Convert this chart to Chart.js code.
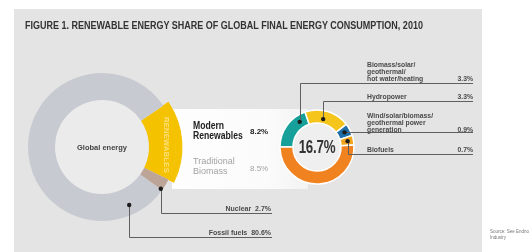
<!DOCTYPE html>
<html><head><meta charset="utf-8">
<script src="https://cdn.jsdelivr.net/npm/chart.js@4.4.0/dist/chart.umd.min.js"></script>
<style>
html,body{margin:0;padding:0;width:529px;height:252px;overflow:hidden;background:#fff;position:relative;}
#panel{position:absolute;left:14px;top:9px;width:468px;height:243px;background:#e4e4e4;}
#band{position:absolute;left:172px;top:109px;width:136px;height:80px;background:linear-gradient(to right,rgba(255,255,255,0.97),rgba(255,255,255,0.85) 70%,rgba(255,255,255,0.55));}
canvas{position:absolute;left:0;top:0;}
.t{position:absolute;font-family:"Liberation Sans","DejaVu Sans",sans-serif;white-space:nowrap;color:#3a3a3a;}
.title{left:25px;top:20px;font-size:10px;font-weight:bold;color:#333;transform:scaleX(0.9);transform-origin:0 0;}
.rl{font-size:6.8px;line-height:7px;font-weight:bold;color:#4a4a4a;}
.rv{font-size:6.8px;line-height:7px;font-weight:bold;color:#4a4a4a;text-align:right;}
.ll{font-size:7px;line-height:7px;font-weight:bold;color:#4a4a4a;text-align:right;}
.mid{font-size:10.5px;line-height:10px;font-weight:bold;color:#222;transform:scaleX(0.82);transform-origin:0 0;}
.midv{font-size:8px;font-weight:bold;color:#222;}
.mid2{font-size:9px;line-height:9.5px;color:#a3a3a3;}
.midv2{font-size:8px;color:#a3a3a3;}
.center{font-size:19px;font-weight:bold;color:#333;text-align:center;width:60px;transform:scaleX(0.7);transform-origin:50% 0;letter-spacing:-0.3px;}
.gl{font-size:7.5px;font-weight:bold;color:#444;text-align:center;width:80px;}
.vert{left:136px;top:141px;width:60px;text-align:center;font-size:7.5px;line-height:8px;font-weight:bold;color:#fbe17c;transform:rotate(90deg);transform-origin:50% 50%;letter-spacing:0.3px;}
.src{left:490px;top:229px;font-size:4.5px;line-height:6px;color:#777;}
</style></head>
<body>
<div id="panel"></div>
<div id="band"></div>
<canvas id="big" width="529" height="252"></canvas>
<canvas id="small" width="529" height="252"></canvas>
<div id="labels"></div>
<script>
// ---- data ----
const titleText = 'FIGURE 1. RENEWABLE ENERGY SHARE OF GLOBAL FINAL ENERGY CONSUMPTION, 2010';
const globalCategories = ['Renewables', 'Nuclear', 'Fossil fuels'];
const globalValues = [16.7, 2.7, 80.6];
const renewableCategories = ['Biomass/solar/geothermal hot water/heating', 'Hydropower', 'Wind/solar/biomass/geothermal power generation', 'Biofuels', 'Traditional Biomass'];
const renewableValues = [3.3, 3.3, 0.9, 0.7, 8.5];
const renewableLabelLines = [['Biomass/solar/', 'geothermal/', 'hot water/heating'], ['Hydropower'], ['Wind/solar/biomass/', 'geothermal power', 'generation'], ['Biofuels']];
const splitCategories = ['Modern Renewables', 'Traditional Biomass'];
const splitValues = [8.2, 8.5];
const renewableTotal = 16.7;
const sourceLines = ['Source: See Endnote 1', 'Industry'];

// ---- styles ----
const globalColors = ['#f5c200', '#bca497', '#c7cad1'];
const renewableColors = ['#17a099', '#f6c51c', '#1f6ea8', '#f2a51b', '#f0821f'];
const fmt = v => v.toFixed(1) + '%';

const leaderPlugin = {
  id: 'leaders',
  beforeDatasetsDraw(chart, args, opts) {
    const a = chart.getDatasetMeta(opts.ringIndex).data[0];
    const ctx = chart.ctx;
    ctx.save();
    ctx.fillStyle = opts.holeColor;
    ctx.beginPath(); ctx.arc(a.x, a.y, a.innerRadius, 0, Math.PI * 2); ctx.fill();
    ctx.restore();
  },
  afterDatasetsDraw(chart, args, opts) {
    const meta = chart.getDatasetMeta(opts.ringIndex);
    const ctx = chart.ctx;
    ctx.save();
    opts.anchors.forEach(an => {
      const p = meta.data[an.index].getProps(['x', 'y', 'startAngle', 'endAngle', 'innerRadius', 'outerRadius'], true);
      const ang = p.startAngle + (p.endAngle - p.startAngle) * an.a;
      const r = p.innerRadius + (p.outerRadius - p.innerRadius) * an.r;
      const x = p.x + Math.cos(ang) * r, y = p.y + Math.sin(ang) * r;
      const lx = Math.round(x) + 0.5;
      ctx.strokeStyle = '#5f5f5f'; ctx.lineWidth = 1;
      ctx.beginPath();
      if (an.turnY !== undefined) {
        ctx.moveTo(lx, y); ctx.lineTo(lx, an.turnY + 0.5); ctx.lineTo(an.endX, an.turnY + 0.5);
      } else {
        const ly = Math.round(y) + 0.5;
        ctx.moveTo(x, ly); ctx.lineTo(an.endX, ly);
      }
      ctx.stroke();
      ctx.fillStyle = '#1c1c1c';
      ctx.beginPath(); ctx.arc(x, y, 2.2, 0, Math.PI * 2); ctx.fill();
    });
    ctx.restore();
  }
};

const common = {
  responsive: false, animation: false, events: [],
  plugins: { legend: { display: false }, tooltip: { enabled: false } }
};

new Chart(document.getElementById('big'), {
  type: 'doughnut',
  data: {
    labels: globalCategories,
    datasets: [
      { data: globalValues, backgroundColor: [globalColors[0], 'rgba(0,0,0,0)', 'rgba(0,0,0,0)'], borderColor: [globalColors[0], 'rgba(0,0,0,0)', 'rgba(0,0,0,0)'], borderWidth: 1, hoverOffset: 0, hoverBorderWidth: 0, weight: 6 },
      { data: globalValues, backgroundColor: globalColors, borderWidth: 0, hoverOffset: 0, hoverBorderWidth: 0, weight: 27 }
    ]
  },
  options: Object.assign({}, common, {
    rotation: 56, cutout: '58.75%',
    layout: { padding: { left: 21.5, top: 66.5, right: 346.5, bottom: 24.5 } },
    plugins: Object.assign({}, common.plugins, {
      leaders: { ringIndex: 1, holeColor: '#ebebeb', anchors: [
        { index: 1, a: 0.95, r: 0.93, turnY: 213, endX: 272 },
        { index: 2, a: 0.1, r: 0.63, turnY: 237, endX: 272 }
      ] }
    })
  }),
  plugins: [leaderPlugin]
});

new Chart(document.getElementById('small'), {
  type: 'doughnut',
  data: {
    labels: renewableCategories,
    datasets: [{ data: renewableValues, backgroundColor: renewableColors, borderColor: '#ffffff', borderWidth: 1.5, hoverOffset: 0, hoverBorderWidth: 0 }]
  },
  options: Object.assign({}, common, {
    rotation: -90, cutout: '65%',
    layout: { padding: { left: 279.25, top: 109.25, right: 174.25, bottom: 67.25 } },
    plugins: Object.assign({}, common.plugins, {
      leaders: { ringIndex: 0, holeColor: '#efefef', anchors: [
        { index: 0, a: 0.78, r: 0.5, turnY: 83, endX: 473 },
        { index: 1, a: 0.44, r: 0.35, turnY: 101, endX: 473 },
        { index: 2, a: 0.5, r: 0.55, endX: 473 },
        { index: 3, a: 0.5, r: 0.55, turnY: 154, endX: 473 }
      ] }
    })
  }),
  plugins: [leaderPlugin]
});

// ---- text ----
const L = document.getElementById('labels');
function add(cls, html, style) {
  const d = document.createElement('div');
  d.className = 't ' + cls; d.innerHTML = html;
  Object.assign(d.style, style); L.appendChild(d); return d;
}
add('title', titleText, {});
add('gl', 'Global energy', { left: '62px', top: '143px' });
add('vert', globalCategories[0].toUpperCase(), {});
add('center', fmt(renewableTotal), { left: '287px', top: '136px' });
const lineYs = [83, 101, 134, 154];
renewableLabelLines.forEach((lines, i) => {
  add('rl', lines.join('<br>'), { left: '367px', bottom: (252 - lineYs[i] + 1) + 'px' });
  add('rv', fmt(renewableValues[i]), { right: '56px', bottom: (252 - lineYs[i] + 1) + 'px' });
});
add('ll', globalCategories[1] + '&nbsp;&nbsp;' + fmt(globalValues[1]), { right: '258px', bottom: (252 - 213 + 1) + 'px' });
add('ll', globalCategories[2] + '&nbsp;&nbsp;' + fmt(globalValues[2]), { right: '258px', bottom: (252 - 237 + 1) + 'px' });
add('mid', 'Modern<br>Renewables', { left: '193px', top: '120px' });
add('midv', fmt(splitValues[0]), { left: '250px', top: '127px' });
add('mid2', 'Traditional<br>Biomass', { left: '193px', top: '157px' });
add('midv2', fmt(splitValues[1]), { left: '250px', top: '164px' });
add('src', sourceLines.join('<br>'), {});
</script>
</body></html>
